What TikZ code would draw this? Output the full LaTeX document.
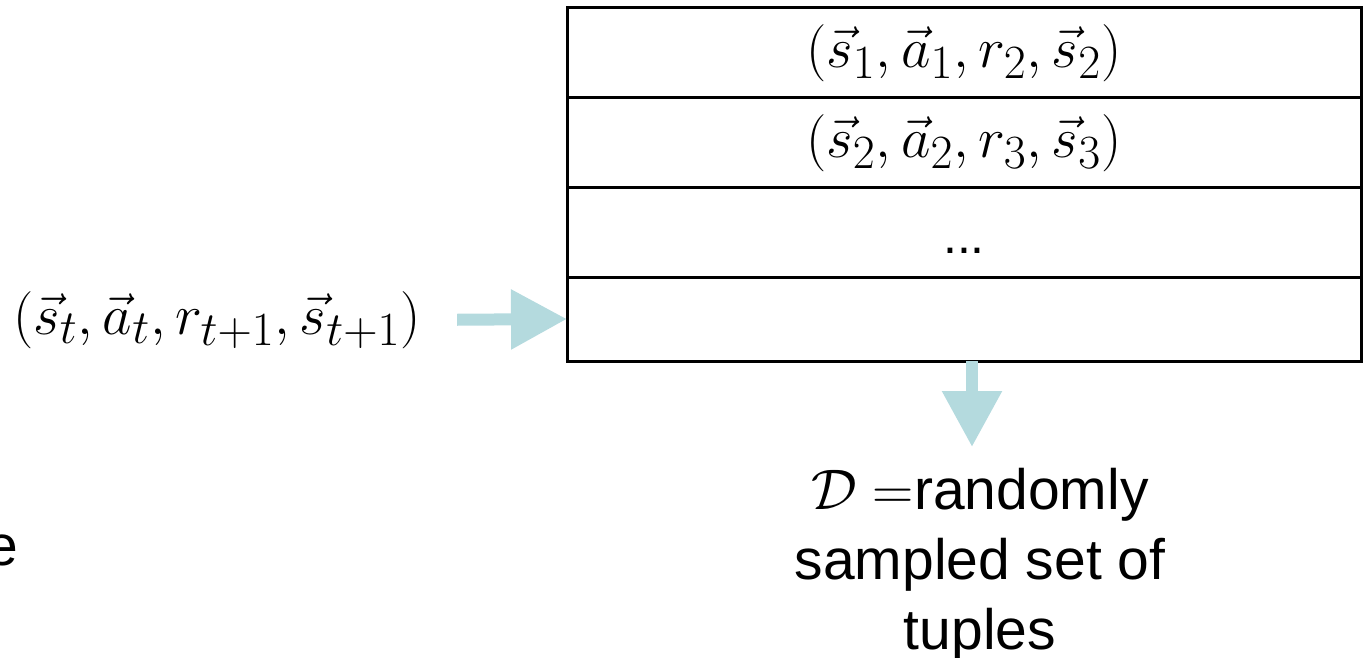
\documentclass[tikz,border=0pt]{standalone}
\usepackage{graphicx}
\usepackage{fontspec}
\setmainfont{Liberation Sans}
\usetikzlibrary{positioning,arrows.meta}
\definecolor{flowblue}{RGB}{180,218,222}
\newcommand{\bigmath}[1]{\scalebox{2.3}{\fontsize{24.88}{28}\selectfont$#1$}}

\begin{document}
\begin{tikzpicture}[
    x=1pt, y=-1pt,
    row/.style={
        rectangle,
        draw=black,
        line width=3pt,
        minimum width=794pt,
        inner sep=0pt,
        outer sep=0pt
    },
    label/.style={
        inner sep=0pt,
        align=center,
        font=\fontsize{57}{70}\selectfont
    },
    tuple/.style={inner sep=0pt},
    flow/.style={
        draw=flowblue,
        line width=12pt,
        -{Triangle[length=56pt, width=57pt]}
    }
]
\useasboundingbox (0,0) rectangle (1369,658);

% Nodes
\node[row, minimum height=90pt] (r1) at (964,53) {\bigmath{(\vec{s}_1, \vec{a}_1, r_2, \vec{s}_2)}};
\node[row, minimum height=90pt, below=0pt of r1] (r2) {\bigmath{(\vec{s}_2, \vec{a}_2, r_3, \vec{s}_3)}};
\node[row, minimum height=89pt, below=0pt of r2, text height=42pt, text depth=0pt,
      font=\fontsize{50}{56}\selectfont] (r3) {...};
\node[row, minimum height=84pt, below=0pt of r3] (r4) {};

\node[tuple] (new) at (217,320) {\bigmath{(\vec{s}_t, \vec{a}_t, r_{t+1}, \vec{s}_{t+1})}};

\node[label, anchor=north] (batch) at (980,468)
    {\bigmath{\mathcal{D}}\ \bigmath{=}randomly\\sampled set of\\tuples};
\node[label, anchor=base east] (cut) at (18,565) {e};

% Arrows
\draw[flow, shorten <=36pt] (new.east) -- (r4.west);
\draw[flow, shorten >=21pt] ([xshift=8pt]r4.south) -- ([xshift=-8pt]batch.north);

\end{tikzpicture}
\end{document}
